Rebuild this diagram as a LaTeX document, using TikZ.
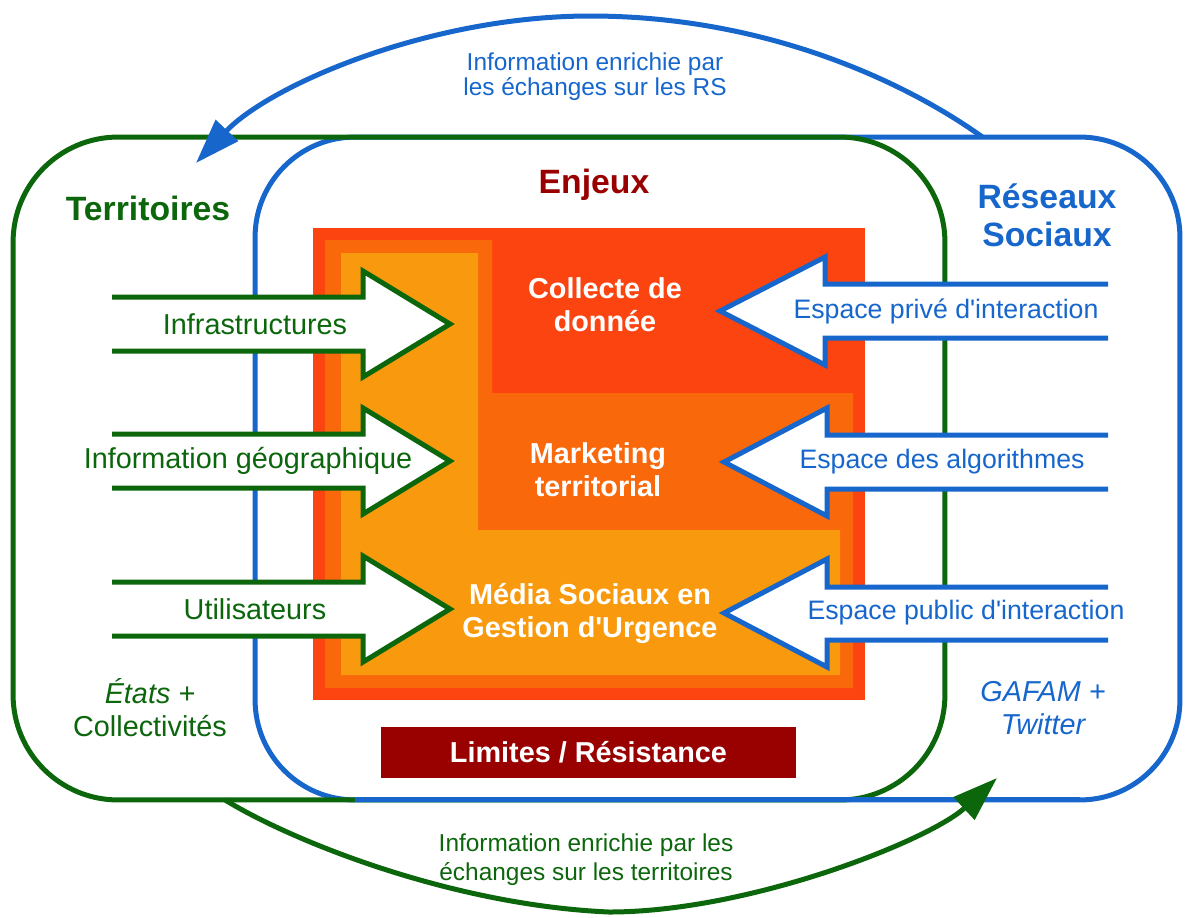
\documentclass[tikz,border=0pt]{standalone}
\usepackage{fontspec}
\setmainfont{Liberation Sans}
\usepackage{xcolor}
\usepackage{tikz}
\usetikzlibrary{arrows.meta,positioning}

\definecolor{terrgreen}{RGB}{12,102,12}
\definecolor{rsblue}{RGB}{22,102,204}
\definecolor{enjred}{RGB}{252,68,16}
\definecolor{enjorange}{RGB}{250,104,12}
\definecolor{enjyellow}{RGB}{249,154,14}
\definecolor{limred}{RGB}{153,0,0}

\begin{document}
\begin{tikzpicture}[
    % GLOBAL CFG
    x=0.02cm, y=-0.02cm,
    font=\fontsize{16.4}{18.8}\selectfont,
    >={Triangle[length=0.9cm,width=0.6cm]},
    % Styles
    zone/.style={% For the two big rounded boxes
        rectangle,
        rounded corners=2.1cm,
        draw,
        line width=0.1cm,
        outer sep=0pt,
        minimum height=13.26cm,
        },
    zonetitle/.style={% For Territoires, Enjeux, Reseaux
        font=\fontsize{19.2}{21.6}\selectfont\bfseries,
        align=center,
        },
    boxtext/.style={% For the texts on the orange boxes
        text=white,
        font=\fontsize{16.4}{18.8}\selectfont\bfseries,
        align=center,
        },
    tarrow/.style={% Block arrows of the territoires
        draw=terrgreen,
        fill=white,
        line width=0.1cm,
        },
    rarrow/.style={% Block arrows of the social networks
        draw=rsblue,
        fill=white,
        line width=0.1cm,
        },
    rlabel/.style={% Texts on the blue arrows
        text=rsblue,
        font=\fontsize{15.2}{18}\selectfont,
        },
    flow/.style={% Big curved arrows
        ->,
        line width=0.1cm,
        },
    ]

\useasboundingbox (0,0) rectangle (1193,917);

    % Draw the two zones
    \node [zone, draw=rsblue, rounded corners=2cm, minimum width=18.5cm] (rs) at (717.5,468.5) {};
    \node [zone, draw=terrgreen, minimum width=18.64cm] (terr) at (479,468.5) {};
    % bottom: the blue line is over the green one
    \draw [rsblue, line width=0.1cm] (rs.south west) ++(100,0) -- ([xshift=-2cm]rs.south east);

    % Draw the Enjeux block
    \fill [enjred] (313,228) rectangle (865,700);
    \fill [enjorange] (325,240) -- (492,240) -- (492,393) -- (853,393) -- (853,688) -- (325,688) -- cycle;
    \fill [enjyellow] (341,253) -- (478,253) -- (478,530) -- (840,530) -- (840,675) -- (341,675) -- cycle;

    \node [boxtext] (collecte) at (605,305) {Collecte de\\donnée};
    \node [boxtext] (marketing) at (598,470) {Marketing\\territorial};
    \node [boxtext] (media) at (590,613) {Média Sociaux en\\Gestion d\textquotesingle Urgence};
    \node [boxtext, fill=limred, minimum width=8.3cm, minimum height=1.02cm] (limites) at (588.5,752.5) {Limites / Résistance};

    % Titles
    \node [zonetitle, text=limred] (enjeux) at (594,185) {Enjeux};
    \node [zonetitle, text=terrgreen] (territoires) at (148,208) {Territoires};
    \node [zonetitle, text=rsblue] (reseaux) at (1047,215) {Réseaux\\Sociaux};
    \node [text=terrgreen, align=center] (etats) at (150,708) {\textit{États +}\\Collectivités};
    \node [text=rsblue, align=center, font=\fontsize{16.4}{18.8}\selectfont\itshape] (gafam) at (1043,708) {GAFAM +\\Twitter};

    % Green arrows (inputs from the territoires)
    \path [tarrow] (112,297) -- (363,297) -- (363,271) -- (450,324) -- (363,377) -- (363,351) -- (112,351);
    \path [tarrow] (112,434) -- (363,434) -- (363,408) -- (450,461) -- (363,514) -- (363,488) -- (112,488);
    \path [tarrow] (112,582) -- (363,582) -- (363,556) -- (450,609) -- (363,662) -- (363,636) -- (112,636);
    \node [text=terrgreen] (infra) at (255,324) {Infrastructures};
    \node [text=terrgreen] (geo) at (248,461) {Information géographique};
    \node [text=terrgreen] (users) at (255,609) {Utilisateurs};

    % Blue arrows (inputs from the social networks)
    \path [rarrow] (1108,284) -- (825,284) -- (825,257) -- (720,311) -- (825,365) -- (825,338) -- (1108,338);
    \path [rarrow] (1108,435) -- (827,435) -- (827,408) -- (724,462) -- (827,516) -- (827,489) -- (1108,489);
    \path [rarrow] (1108,587) -- (827,587) -- (827,559) -- (724,613) -- (827,667) -- (827,640) -- (1108,640);
    \node [rlabel] (prive) at (946,311) {Espace privé d\textquotesingle interaction};
    \node [rlabel] (algo) at (942,462) {Espace des algorithmes};
    \node [rlabel] (public) at (966,613) {Espace public d\textquotesingle interaction};

    % Curved arrows between the zones
    \coordinate (rsout) at ([xshift=5.3cm]rs.north);
    \coordinate (terrin) at (196,163);
    \coordinate (terrout) at ([xshift=-5.08cm]terr.south);
    \coordinate (rsin) at (997,778);
    \draw [flow, rsblue] (rsout) .. controls (910,85) and (770,16) .. (590,16) .. controls (430,16) and (270,85) .. (terrin);
    \draw [flow, terrgreen] (terrout) .. controls (290,840) and (450,905) .. (609,912) .. controls (750,912) and (930,840) .. (rsin);
    \node [text=rsblue, align=center, font=\fontsize{13.9}{14.4}\selectfont] (rsinfo) at (595,77) {Information enrichie par\\les échanges sur les RS};
    \node [text=terrgreen, align=center, font=\fontsize{13.9}{16.4}\selectfont] (terrinfo) at (586,860) {Information enrichie par les\\échanges sur les territoires};

\end{tikzpicture}
\end{document}
